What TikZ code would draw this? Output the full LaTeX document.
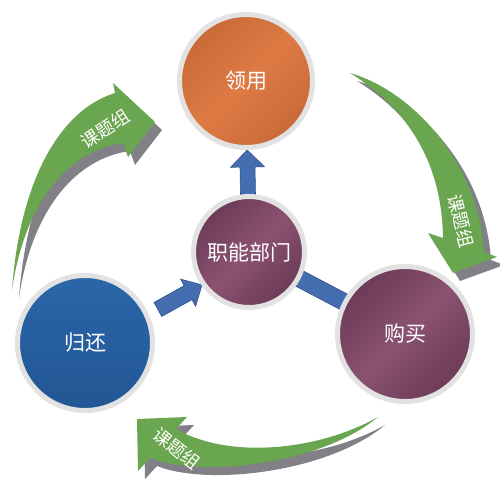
\documentclass[tikz,border=0pt]{standalone}
\usepackage{fontspec}
\newfontfamily\cjk{Noto Sans CJK SC}
\usetikzlibrary{calc}
\definecolor{agreen}{RGB}{106,165,80}
\definecolor{ashadow}{RGB}{128,128,134}
\definecolor{ring}{RGB}{226,226,226}
\definecolor{orDark}{RGB}{200,106,56}
\definecolor{orLight}{RGB}{222,122,68}
\definecolor{puDark}{RGB}{108,58,88}
\definecolor{puLight}{RGB}{138,82,112}
\definecolor{buTop}{RGB}{42,102,168}
\definecolor{buBot}{RGB}{34,86,148}
\definecolor{baFill}{RGB}{68,110,176}
\definecolor{baLine}{RGB}{48,82,138}
\newcommand{\barrow}[5]{%
  \coordinate (bs) at (#1);
  \coordinate (be) at (#2);
  \coordinate (bh) at ($(be)!#5!(bs)$);
  \filldraw[blockarrow] ($(bs)!#3!90:(be)$) -- ($(bh)!#3!-90:(bs)$) -- ($(bh)!#4!-90:(bs)$)
    -- (be) -- ($(bh)!#4!90:(bs)$) -- ($(bh)!#3!90:(bs)$) -- ($(bs)!#3!-90:(be)$) -- cycle;}
\begin{document}
\begin{tikzpicture}[x=1pt,y=-1pt,
  circ/.style={circle, draw=ring, line width=5pt, inner sep=0pt, outer sep=0pt,
    text=white, font=\cjk\fontsize{21}{25}\selectfont},
  orangeball/.style={circ, minimum size=133pt, top color=orDark, bottom color=orDark,
    middle color=orLight, shading angle=45},
  purpleball/.style={circ, top color=puDark, bottom color=puDark,
    middle color=puLight, shading angle=45},
  blueball/.style={circ, minimum size=135pt, top color=buTop, bottom color=buBot},
  greenarrow/.style={fill=agreen},
  arrowshadow/.style={fill=ashadow},
  blockarrow/.style={fill=baFill, draw=baLine, line width=0.6pt, line join=miter},
  alabel/.style={text=white, font=\cjk\fontsize{18}{20}\selectfont, inner sep=0pt}]
\useasboundingbox (0,0) rectangle (500,482);
\fill[white] (0,0) rectangle (500,482);

% green curved arrows: shadows
\begin{scope}[shift={(7,8)}]
\fill[arrowshadow] (12,290) .. controls (20,180) and (60,110) .. (115,93) -- (113,83) -- (155,122)
  -- (128,157) -- (123,143) .. controls (70,150) and (25,200) .. (12,290) -- cycle;
\fill[arrowshadow] (350,73) .. controls (410,90) and (478,160) .. (484,252) -- (497,257) -- (453,273)
  -- (428,233) -- (443,238) .. controls (442,165) and (410,110) .. (350,73) -- cycle;
\fill[arrowshadow] (378,417) .. controls (320,450) and (230,460) .. (176,429) -- (187,417) -- (137,419)
  -- (138,471) -- (150,458) .. controls (200,478) and (320,465) .. (378,417) -- cycle;
\end{scope}
% green curved arrows
\fill[greenarrow] (12,290) .. controls (20,180) and (60,110) .. (115,93) -- (113,83) -- (155,122)
  -- (128,157) -- (123,143) .. controls (70,150) and (25,200) .. (12,290) -- cycle;
\fill[greenarrow] (350,73) .. controls (410,90) and (478,160) .. (484,252) -- (497,257) -- (453,273)
  -- (428,233) -- (443,238) .. controls (442,165) and (410,110) .. (350,73) -- cycle;
\fill[greenarrow] (378,417) .. controls (320,450) and (230,460) .. (176,429) -- (187,417) -- (137,419)
  -- (138,471) -- (150,458) .. controls (200,478) and (320,465) .. (378,417) -- cycle;
\node[alabel, rotate=33] (g1) at (105,129) {课题组};
\node[alabel, rotate=-76] (g2) at (461,221) {课题组};
\node[alabel, rotate=-38] (g3) at (177,449) {课题组};

% circle positions (coordinates first so the arrows can go under the circles)
\coordinate (pTop) at (246,81);
\coordinate (pCtr) at (249,252);
\coordinate (pLft) at (85,343);
\coordinate (pRgt) at (405,334);

% blue connectors
\coordinate (upS) at ($(pCtr)!56pt!(pTop)$);
\coordinate (upE) at ($(pTop)!69pt!(pCtr)$);
\barrow{upS}{upE}{7.5pt}{17pt}{17pt}
\coordinate (la) at ($(pLft)!80pt!(pCtr)$);
\coordinate (lS) at ($(la)!6pt!-90:(pCtr)$);
\coordinate (lb) at ($(pCtr)!57pt!(pLft)$);
\coordinate (lE) at ($(lb)!6pt!90:(pLft)$);
\barrow{lS}{lE}{8pt}{15.5pt}{16pt}
\coordinate (rS) at ($(pCtr)!56pt!(pRgt)$);
\coordinate (rE) at ($(pRgt)!60pt!(pCtr)$);
\filldraw[blockarrow] ($(rS)!8.5pt!90:(rE)$) -- ($(rE)!8.5pt!-90:(rS)$) -- ($(rE)!8.5pt!90:(rS)$)
  -- ($(rS)!8.5pt!-90:(rE)$) -- cycle;

% circles
\node[orangeball] (nTop) at (pTop) {领用};
\node[purpleball, minimum size=111pt] (nCtr) at (pCtr) {职能部门};
\node[blueball] (nLft) at (pLft) {归还};
\node[purpleball, minimum size=135pt] (nRgt) at (pRgt) {购买};
\end{tikzpicture}
\end{document}
